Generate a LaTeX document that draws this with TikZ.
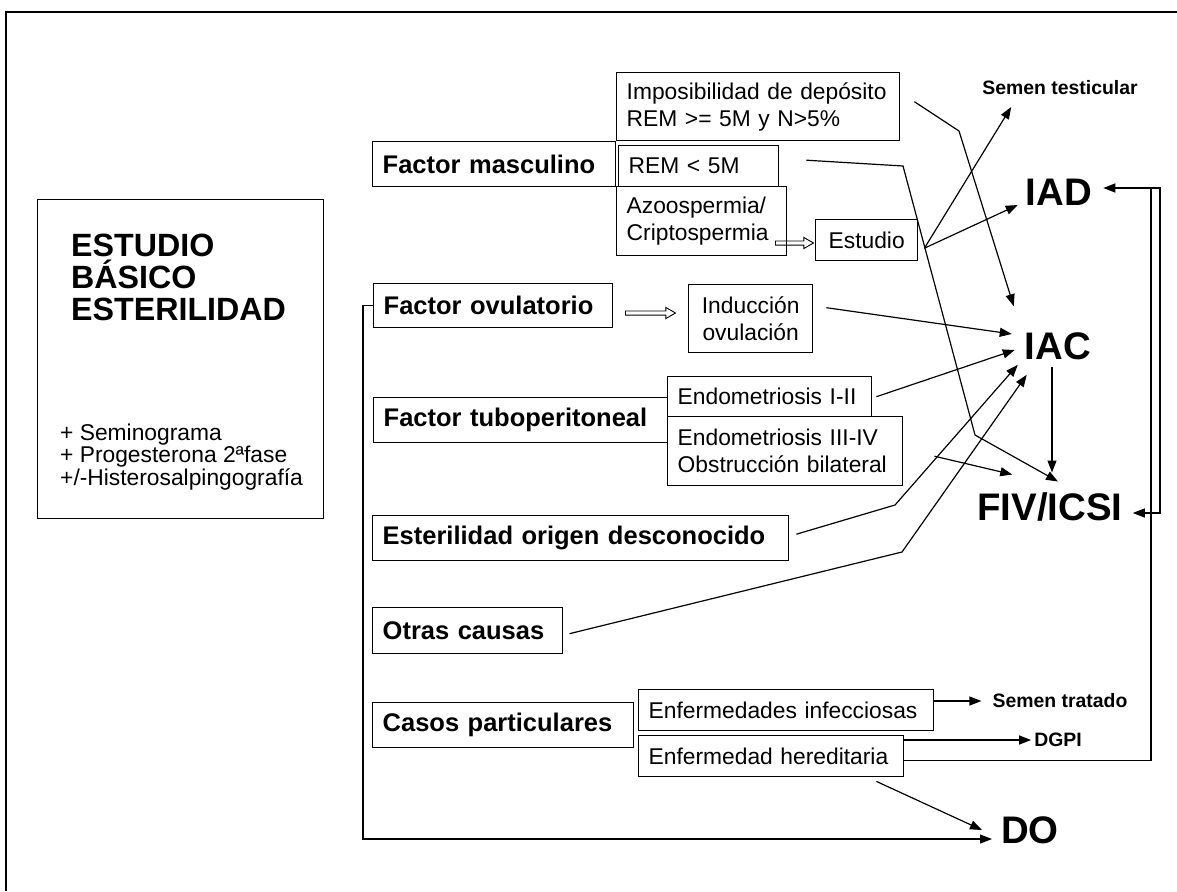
\documentclass[tikz,border=0pt]{standalone}
\usepackage{fontspec}
\setmainfont{Liberation Sans}
\usetikzlibrary{positioning,arrows.meta,shapes.arrows}

\begin{document}
\begin{tikzpicture}
[x=1pt,y=-1pt,
 >={Triangle[length=12pt,width=9pt]},
 conn/.style={line width=1.2pt},
 box/.style 2 args={draw,line width=1.4pt,anchor=north west,inner xsep=10pt,inner ysep=0pt,align=left,text width=#1,minimum height=#2,font=\fontsize{22.8}{27}\selectfont},
 factor/.style 2 args={box={#1}{#2},font=\fontsize{25.5}{30}\selectfont\bfseries},
 cbox/.style 2 args={draw,line width=1.4pt,anchor=north west,inner sep=0pt,align=center,minimum width=#1,minimum height=#2,font=\fontsize{22.8}{27}\selectfont},
 result/.style={inner sep=3pt,font=\fontsize{38.4}{44}\selectfont\bfseries},
 small/.style={inner sep=3pt,font=\fontsize{19.4}{23}\selectfont\bfseries},
 hollow/.style={single arrow,draw,line width=0.9pt,anchor=tail,minimum height=#1,inner sep=1.6pt,single arrow head extend=3.5pt,single arrow tip angle=60}]
\useasboundingbox (0,0) rectangle (1177,891);
\draw[line width=1.8pt] (6,891) -- (6,12) -- (1177,12);

\node[cbox={286}{319}] (estb) at (37,199) {};
\node[anchor=north west,inner sep=0pt,align=left,font=\fontsize{32.2}{32}\selectfont\bfseries] (titulo) at (71,234) {ESTUDIO\\BÁSICO\\ESTERILIDAD};
\node[anchor=north west,inner sep=0pt,align=left,font=\fontsize{22.8}{21}\selectfont] (pruebas) at (60,424) {+ Seminograma\\+ Progesterona 2ªfase\\+/-Histerosalpingografía};

\node[factor={223}{45}] (fmasc) at (372,141) {Factor masculino};
\node[box={263}{68}] (imposib) at (616,72) {Imposibilidad de depósito\\REM >= 5M y N>5\%};
\node[box={140}{41}] (rem) at (618,145) {REM < 5M};
\node[box={150}{69}] (azoo) at (616,186) {Azoospermia/\\Criptospermia};
\node[cbox={102}{41}] (estudio) at (815,219) {Estudio};
\node[factor={219}{44}] (fovul) at (373,283) {Factor ovulatorio};
\node[cbox={124}{68}] (induc) at (688,284) {Inducción\\ovulación};
\node[factor={274}{45}] (ftubo) at (373,397) {Factor tuboperitoneal};
\node[box={184}{40}] (endoa) at (667,376) {Endometriosis I-II};
\node[box={215}{69}] (endob) at (667,416) {Endometriosis III-IV\\Obstrucción bilateral};
\node[factor={396}{45}] (esor) at (372,515) {Esterilidad origen desconocido};
\node[factor={170}{46}] (otras) at (372,607) {Otras causas};
\node[factor={241}{45}] (casos) at (372,702) {Casos particulares};
\node[box={275}{41}] (infec) at (638,689) {Enfermedades infecciosas};
\node[box={245}{41}] (hered) at (638,735) {Enfermedad hereditaria};

\node[result] (iad) at (1059,192) {IAD};
\node[result] (iac) at (1058,346) {IAC};
\node[result] (fiv) at (1050,507) {FIV/ICSI};
\node[result] (do) at (1030,830) {DO};
\node[small] (stest) at (1060,88) {Semen testicular};
\node[small] (strat) at (1060,701) {Semen tratado};
\node[small] (dgpi) at (1058,740) {DGPI};

\node[hollow=38] (azooest) at (775,243) {};
\node[hollow=50] (ovulind) at (625,313) {};

\coordinate (estout) at ([shift={(6,8)}]estudio.east);
\draw[conn,->] ([shift={(14,-5)}]imposib.east) -- (959,131) -- ([shift={(-8,-23)}]iac.north west);
\draw[conn,->] ([shift={(27,-6)}]rem.east) -- (903,166) -- (975,435) -- ([shift={(8,-8)}]fiv.north);
\draw[conn,->] (estout) -- ([shift={(32,19)}]stest.west);
\draw[conn,->] (estout) -- ([shift={(-5,13)}]iad.west);
\draw[conn,->] ([shift={(13,-11)}]induc.east) -- ([shift={(-10,-12)}]iac.west);
\draw[conn,->] ([xshift=4pt]endoa.east) -- ([shift={(-7,4)}]iac.west);
\draw[conn,->] ([shift={(7,-4)}]esor.east) -- (895,505) -- ([shift={(-4,2)}]iac.south west);
\draw[conn,->] ([shift={(6,3)}]otras.east) -- (902,552) -- ([shift={(5,12)}]iac.south west);
\draw[conn,->] ([shift={(31,5)}]endob.east) -- ([shift={(38,-15)}]fiv.north west);
\draw[conn,->] ([shift={(-6,4)}]iac.south) -- ([shift={(2,-17)}]fiv.north);
\draw[conn,->] (infec.east |- strat) -- ([xshift=-8pt]strat.west);
\draw[conn,->] (hered.east |- dgpi) -- (dgpi.west);
\draw[conn,->] ([yshift=-4.5pt]hered.east) -| (1151,188) -- ([shift={(8,-4)}]iad.east);
\draw[conn,->] (1151,188) -- (1160,188) -- (1160,513) -- ([shift={(7,6)}]fiv.east);
\draw[conn,->] ([shift={(-28,4)}]hered.south east) -- ([xshift=-16pt]do.west);
\draw[conn,->] (fovul.west) -- ++(-10,0) |- ([shift={(-6,9)}]do.west);
\end{tikzpicture}
\end{document}
